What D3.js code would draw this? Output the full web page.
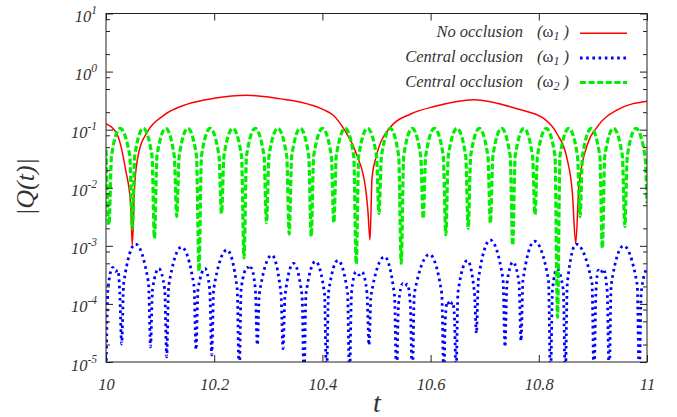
<!DOCTYPE html>
<html>
<head>
<meta charset="utf-8">
<script src="https://cdn.jsdelivr.net/npm/d3@7"></script>
<style>
    html, body { margin: 0; padding: 0; background: #fff; }
    svg { display: block; }
    text { font-family: "Liberation Serif", "Times New Roman", serif; font-style: italic; fill: #333; }
</style>
</head>
<body>
<div id="chart"></div>
<script>
// Axis ticks
const xTicks = [10, 10.2, 10.4, 10.6, 10.8, 11];
const xTickLabels = ['10', '10.2', '10.4', '10.6', '10.8', '11'];
const yDecades = [1e-5, 1e-4, 1e-3, 1e-2, 1e-1, 1e0, 1e1];
const yExponents = ['-5', '-4', '-3', '-2', '-1', '0', '1'];
const yMinor = [2e-5, 5e-5, 8e-5, 2e-4, 5e-4, 8e-4, 2e-3, 5e-3, 8e-3,
    2e-2, 5e-2, 8e-2, 2e-1, 5e-1, 8e-1, 2, 5, 8];

// Legend text
const seriesLabels = ['No occlusion', 'Central occlusion', 'Central occlusion'];
const seriesOmega = ['1', '1', '2'];

// |Q(t)|, [t, value]
const noOcclusion = [
    [10.000, 0.127], [10.021, 0.081], [10.036, 0.021], [10.0457, 0.005], [10.0486, 0.00102],
    [10.053, 0.0112], [10.061, 0.042], [10.0763, 0.091], [10.1072, 0.178], [10.1503, 0.275],
    [10.1996, 0.347], [10.2606, 0.391], [10.3229, 0.339], [10.3586, 0.30], [10.403, 0.219],
    [10.4196, 0.179], [10.4399, 0.102], [10.464, 0.036], [10.48, 0.0095], [10.4843, 0.0038],
    [10.488, 0.00126], [10.4917, 0.0145], [10.4985, 0.032], [10.5262, 0.112], [10.5632, 0.186],
    [10.6063, 0.25], [10.6802, 0.328], [10.7597, 0.229], [10.8096, 0.155], [10.8336, 0.085],
    [10.8521, 0.032], [10.8619, 0.0085], [10.8682, 0.0011], [10.8743, 0.0112], [10.8897, 0.055],
    [10.9081, 0.112], [10.9451, 0.219], [11.0, 0.31]
];

const centralW1 = [
    [10.0000, 5e-6], [10.0037, 1.86e-4], [10.0126, 4.27e-4], [10.0176, 3.63e-4], [10.0222, 3.8e-4],
    [10.0253, 1.66e-4], [10.0290, 2.04e-5], [10.0327, 2.29e-4], [10.0545, 1.07e-3], [10.0786, 2.29e-4],
    [10.0823, 1.82e-5], [10.0860, 1.78e-4], [10.0976, 4.07e-4], [10.1085, 1.78e-4], [10.1122, 1.23e-5],
    [10.1159, 2.04e-4], [10.1396, 9.5e-4], [10.1627, 2.04e-4], [10.1664, 1.62e-5], [10.1701, 1.78e-4],
    [10.1830, 4.07e-4], [10.1917, 1.78e-4], [10.1954, 1.32e-5], [10.1991, 1.82e-4], [10.2237, 8.5e-4],
    [10.2425, 1.82e-4], [10.2462, 5e-6], [10.2499, 1.86e-4], [10.2616, 4.27e-4], [10.2649, 3.8e-4],
    [10.2680, 4.17e-4], [10.2760, 1.82e-4], [10.2797, 1.95e-5], [10.2834, 1.48e-4], [10.3065, 6.9e-4],
    [10.3235, 1.48e-4], [10.3272, 1.7e-5], [10.3309, 1.41e-4], [10.3466, 5.0e-4], [10.3623, 1.41e-4],
    [10.3660, 5e-6], [10.3697, 1.51e-4], [10.3872, 5.4e-4], [10.4039, 1.51e-4], [10.4076, 5e-6],
    [10.4113, 1.58e-4], [10.4288, 5.6e-4], [10.4464, 1.58e-4], [10.4501, 5e-6], [10.4538, 1.55e-4],
    [10.4621, 3.55e-4], [10.4677, 3.16e-4], [10.4732, 3.55e-4], [10.4824, 1.55e-4], [10.4861, 1.95e-5],
    [10.4898, 1.38e-4], [10.5148, 6.5e-4], [10.5333, 1.38e-4], [10.5370, 5e-6], [10.5407, 1.0e-4],
    [10.5486, 2.24e-4], [10.5527, 2.04e-4], [10.5569, 2.19e-4], [10.5625, 1.0e-4], [10.5662, 5e-6],
    [10.5699, 1.51e-4], [10.5980, 7.1e-4], [10.6207, 1.51e-4], [10.6244, 5e-6], [10.6272, 5.6e-5],
    [10.6309, 1.1e-4], [10.6359, 9.3e-5], [10.6409, 1.07e-4], [10.6442, 5.6e-5], [10.6470, 5e-6],
    [10.6506, 1.58e-4], [10.6680, 5.6e-4], [10.6810, 1.58e-4], [10.6847, 3.1e-5], [10.6884, 2.7e-4],
    [10.7103, 1.26e-3], [10.7338, 2.7e-4], [10.7375, 1.82e-5], [10.7412, 2.29e-4], [10.7523, 5.25e-4],
    [10.7634, 2.29e-4], [10.7671, 2.3e-5], [10.7708, 2.57e-4], [10.7921, 1.2e-3], [10.8179, 2.57e-4],
    [10.8216, 5e-6], [10.8253, 1.74e-4], [10.8336, 4.0e-4], [10.8453, 1.74e-4], [10.8490, 5e-6],
    [10.8527, 2.29e-4], [10.8691, 1.07e-3], [10.8983, 2.29e-4], [10.9020, 5e-6], [10.9057, 1.66e-4],
    [10.9100, 3.8e-4], [10.9144, 3.4e-4], [10.9192, 3.98e-4], [10.9264, 1.66e-4], [10.9301, 5e-6],
    [10.9338, 2.14e-4], [10.9566, 1.0e-3], [10.9819, 2.14e-4], [10.9856, 5e-6], [10.9893, 1.58e-4],
    [11.0000, 4.17e-4]
];

const centralW2 = [
    [10.0000, 0.045], [10.0055, 0.0023], [10.0102, 0.0355], [10.0259, 0.105], [10.0440, 0.0355],
    [10.0486, 0.0020], [10.0532, 0.0355], [10.0689, 0.105], [10.0850, 0.0355], [10.0896, 0.00135],
    [10.0943, 0.0355], [10.1104, 0.105], [10.1261, 0.0355], [10.1307, 0.0032], [10.1353, 0.0355],
    [10.1512, 0.105], [10.1673, 0.0355], [10.1719, 0.00037], [10.1765, 0.0355], [10.1926, 0.105],
    [10.2089, 0.0355], [10.2135, 0.0036], [10.2181, 0.0355], [10.2344, 0.105], [10.2505, 0.0355],
    [10.2551, 0.00062], [10.2597, 0.0355], [10.2758, 0.105], [10.2921, 0.0355], [10.2967, 0.0025],
    [10.3013, 0.0355], [10.3176, 0.105], [10.3340, 0.0355], [10.3386, 0.0016], [10.3433, 0.0355],
    [10.3591, 0.105], [10.3747, 0.0355], [10.3793, 0.00145], [10.3839, 0.0355], [10.4004, 0.105],
    [10.4165, 0.0355], [10.4211, 0.0025], [10.4257, 0.0355], [10.4420, 0.105], [10.4579, 0.0355],
    [10.4625, 0.00049], [10.4671, 0.0355], [10.4834, 0.105], [10.5000, 0.0355], [10.5046, 0.0036],
    [10.5092, 0.0355], [10.5253, 0.105], [10.5410, 0.0355], [10.5457, 0.0005], [10.5503, 0.0355],
    [10.5660, 0.105], [10.5817, 0.0355], [10.5863, 0.00295], [10.5909, 0.0355], [10.6072, 0.105],
    [10.6235, 0.0355], [10.6281, 0.00155], [10.6327, 0.0355], [10.6488, 0.105], [10.6649, 0.0355],
    [10.6695, 0.0020], [10.6741, 0.0355], [10.6900, 0.105], [10.7059, 0.0355], [10.7105, 0.00245],
    [10.7152, 0.0355], [10.7311, 0.105], [10.7471, 0.0355], [10.7517, 0.00102], [10.7564, 0.0355],
    [10.7726, 0.105], [10.7884, 0.0355], [10.7930, 0.00345], [10.7976, 0.0355], [10.8137, 0.105],
    [10.8299, 0.0355], [10.8346, 0.000059], [10.8392, 0.0355], [10.8555, 0.105], [10.8715, 0.0355],
    [10.8762, 0.0032], [10.8808, 0.0355], [10.8969, 0.105], [10.9128, 0.0355], [10.9174, 0.00091],
    [10.9220, 0.0355], [10.9381, 0.105], [10.9544, 0.0355], [10.9590, 0.00215], [10.9636, 0.0355],
    [10.9797, 0.105], [10.9963, 0.0355], [11.0000, 0.0055]
];

const width = 677;
const height = 417;
const plot = { left: 106, right: 647, top: 13.5, bottom: 362 };

const svg = d3.select('#chart').append('svg')
    .attr('width', width)
    .attr('height', height);

// Scales
const x = d3.scaleLinear().domain([10, 11]).range([plot.left, plot.right]);
const y = d3.scaleLog().domain([1e-5, 10]).range([plot.bottom, plot.top]);

svg.append('defs').append('clipPath')
    .attr('id', 'clip')
    .append('rect')
    .attr('x', plot.left)
    .attr('y', plot.top)
    .attr('width', plot.right - plot.left)
    .attr('height', plot.bottom - plot.top);

// Curves (drawn in gnuplot order: red, blue, green)
const line = d3.line()
    .x(d => x(d[0]))
    .y(d => y(d[1]))
    .curve(d3.curveMonotoneX);

const styles = [
    { color: '#ff0000', width: 1.5, dash: null },
    { color: '#0000ff', width: 2.8, dash: '2.6 3.6' },
    { color: '#00ee00', width: 3.2, dash: '6 2.6' }
];

const curves = svg.append('g').attr('clip-path', 'url(#clip)');
[noOcclusion, centralW1, centralW2].forEach((data, i) => {
    curves.append('path')
        .datum(data)
        .attr('d', line)
        .attr('fill', 'none')
        .attr('stroke', styles[i].color)
        .attr('stroke-width', styles[i].width)
        .attr('stroke-dasharray', styles[i].dash);
});

// Axes: ticks point inward on all four sides
function styleAxis(g) {
    g.attr('font-family', null).attr('font-size', 16.5).attr('color', '#222');
    g.select('.domain').remove();
}

svg.append('g')
    .attr('transform', `translate(0,${plot.bottom})`)
    .call(d3.axisBottom(x).tickValues(xTicks).tickSize(-7).tickSizeOuter(0)
        .tickPadding(16).tickFormat((d, i) => xTickLabels[i]))
    .call(styleAxis);

svg.append('g')
    .attr('transform', `translate(0,${plot.top})`)
    .call(d3.axisTop(x).tickValues(xTicks).tickSize(-7).tickSizeOuter(0).tickFormat(''))
    .call(styleAxis);

const leftAxis = svg.append('g')
    .attr('transform', `translate(${plot.left},0)`)
    .call(d3.axisLeft(y).tickValues(yDecades).tickSize(-7).tickSizeOuter(0)
        .tickPadding(9).tickFormat(''))
    .call(styleAxis);

leftAxis.selectAll('.tick text').each(function (d, i) {
    const t = d3.select(this).attr('dy', 8).text(null);
    t.append('tspan').text('10');
    t.append('tspan').attr('dy', -8).style('font-size', '11.5px').text(yExponents[i]);
});

svg.append('g')
    .attr('transform', `translate(${plot.left},0)`)
    .call(d3.axisLeft(y).tickValues(yMinor).tickSize(-4).tickSizeOuter(0).tickFormat(''))
    .call(styleAxis);

svg.append('g')
    .attr('transform', `translate(${plot.right},0)`)
    .call(d3.axisRight(y).tickValues(yDecades).tickSize(-7).tickSizeOuter(0).tickFormat(''))
    .call(styleAxis);

svg.append('g')
    .attr('transform', `translate(${plot.right},0)`)
    .call(d3.axisRight(y).tickValues(yMinor).tickSize(-4).tickSizeOuter(0).tickFormat(''))
    .call(styleAxis);

// Frame
svg.append('rect')
    .attr('x', plot.left)
    .attr('y', plot.top)
    .attr('width', plot.right - plot.left)
    .attr('height', plot.bottom - plot.top)
    .attr('fill', 'none')
    .attr('stroke', '#222')
    .attr('stroke-width', 1);

// Axis titles
svg.append('text')
    .attr('transform', 'translate(34,187) rotate(-90)')
    .attr('text-anchor', 'middle')
    .style('font-size', '26px')
    .text('|Q(t)|');

svg.append('text')
    .attr('x', 377)
    .attr('y', 412)
    .attr('text-anchor', 'middle')
    .style('font-size', '28px')
    .text('t');

// Legend
const legendRows = [37.3, 62, 86.5];
seriesLabels.forEach((label, i) => {
    const yy = legendRows[i];
    svg.append('text')
        .attr('x', 523)
        .attr('y', yy)
        .attr('text-anchor', 'end')
        .style('font-size', '16.5px')
        .text(label);

    const om = svg.append('text')
        .attr('x', 537)
        .attr('y', yy)
        .style('font-size', '16.5px');
    om.append('tspan').text('(');
    om.append('tspan').style('font-style', 'normal').text('ω');
    om.append('tspan').attr('dy', 3).style('font-size', '12px').text(seriesOmega[i]);
    om.append('tspan').attr('dy', -3).text('\u00a0)');

    svg.append('line')
        .attr('x1', 580)
        .attr('x2', 627)
        .attr('y1', yy - 4)
        .attr('y2', yy - 4)
        .attr('stroke', styles[i].color)
        .attr('stroke-width', styles[i].width)
        .attr('stroke-dasharray', styles[i].dash);
});
</script>
</body>
</html>
